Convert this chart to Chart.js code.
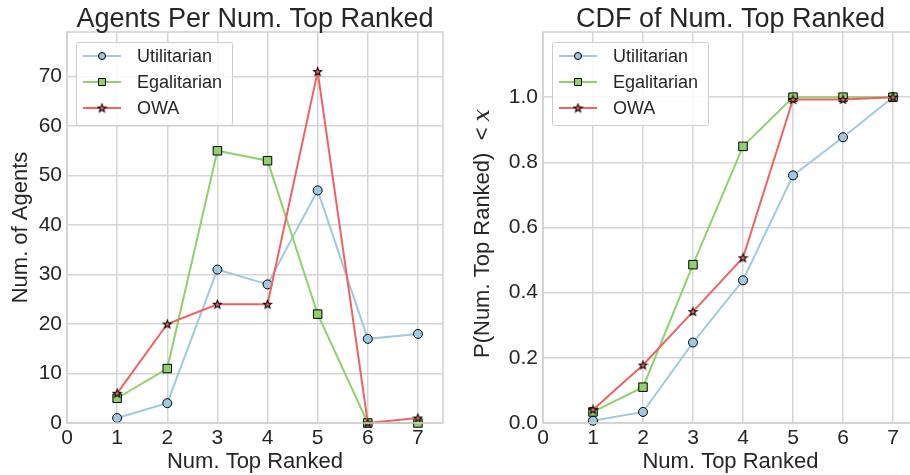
<!DOCTYPE html>
<html>
<head>
<meta charset="utf-8">
<script src="https://cdn.jsdelivr.net/npm/chart.js@4/dist/chart.umd.min.js"></script>
<style>
  html, body { margin: 0; padding: 0; background: #fff; width: 910px; height: 475px; overflow: hidden; position: relative; }
  canvas { position: absolute; top: 0; }
  #c1 { left: 0; }
  #c2 { left: 460px; }
</style>
</head>
<body>
<canvas id="c1" width="460" height="475"></canvas>
<canvas id="c2" width="470" height="475"></canvas>
<script>
// ---- data ----
const numTopRanked = [1, 2, 3, 4, 5, 6, 7];
const xTicks = [0, 1, 2, 3, 4, 5, 6, 7];
const seriesNames = ['Utilitarian', 'Egalitarian', 'OWA'];

const utilCount = [1, 4, 31, 28, 47, 17, 18];
const egalCount = [5, 11, 55, 53, 22, 0, 0];
const owaCount  = [6, 20, 24, 24, 71, 0, 1];

const utilCdf = [0.007, 0.034, 0.247, 0.438, 0.760, 0.877, 1.0];
const egalCdf = [0.034, 0.110, 0.486, 0.849, 1.0, 1.0, 1.0];
const owaCdf  = [0.041, 0.178, 0.342, 0.507, 0.993, 0.993, 1.0];

const countTicks = [0, 10, 20, 30, 40, 50, 60, 70];
const cdfTicks = [0.0, 0.2, 0.4, 0.6, 0.8, 1.0];

// ---- styles ----
const colors = ['#9ecae1', '#8fd16c', '#f06262'];
const TXT = '#262626';
const GRID = '#d5d5d5';
const FONT = "'Liberation Sans', Arial, sans-serif";

function makeStar(fill) {
  const c = document.createElement('canvas');
  c.width = 11; c.height = 11;
  const g = c.getContext('2d');
  const cx = 5.5, cy = 5.8, R = 4.2, r = 1.8;
  g.beginPath();
  for (let i = 0; i < 10; i++) {
    const a = -Math.PI / 2 + i * Math.PI / 5;
    const rr = i % 2 === 0 ? R : r;
    const px = cx + rr * Math.cos(a), py = cy + rr * Math.sin(a);
    if (i === 0) g.moveTo(px, py); else g.lineTo(px, py);
  }
  g.closePath();
  g.fillStyle = fill; g.fill();
  g.lineWidth = 1.1; g.strokeStyle = '#000'; g.stroke();
  return c;
}
const starImg = makeStar(colors[2]);
const markerStyles = ['circle', 'rect', starImg];
const markerRadius = [4.5, 6, 5];

function toPts(arr) { return arr.map((v, i) => ({ x: numTopRanked[i], y: v })); }

function makeDatasets(arrs) {
  return arrs.map((arr, i) => ({
    label: seriesNames[i],
    data: toPts(arr),
    borderColor: colors[i],
    backgroundColor: colors[i],
    borderWidth: 2,
    pointStyle: markerStyles[i],
    pointRadius: markerRadius[i],
    pointHoverRadius: markerRadius[i],
    pointBackgroundColor: colors[i],
    pointBorderColor: '#000',
    pointBorderWidth: 1,
    tension: 0,
    fill: false,
    clip: false,
    order: 2 - i
  }));
}

function drawLegendMarker(ctx, i, x, y) {
  ctx.save();
  ctx.fillStyle = colors[i];
  ctx.strokeStyle = '#000';
  ctx.lineWidth = 1;
  if (i === 0) {
    ctx.beginPath(); ctx.arc(x, y, 3.5, 0, Math.PI * 2); ctx.fill(); ctx.stroke();
  } else if (i === 1) {
    ctx.beginPath(); ctx.rect(x - 3.5, y - 3.5, 7, 7); ctx.fill(); ctx.stroke();
  } else {
    ctx.drawImage(starImg, x - 5.5, y - 5.5);
  }
  ctx.restore();
}

const decorPlugin = {
  id: 'decor',
  afterDraw(chart, args, opts) {
    const ctx = chart.ctx;
    const a = chart.chartArea;
    ctx.save();
    // frame
    ctx.strokeStyle = '#cfcfcf';
    ctx.lineWidth = 1.5;
    ctx.strokeRect(a.left, a.top, a.right - a.left, a.bottom - a.top);
    // title
    ctx.fillStyle = TXT;
    ctx.textAlign = 'center';
    ctx.textBaseline = 'alphabetic';
    ctx.font = '27px ' + FONT;
    ctx.fillText(opts.title, (a.left + a.right) / 2, 27);
    // x label
    ctx.font = '22px ' + FONT;
    ctx.fillText(opts.xLabel, (a.left + a.right) / 2, 468);
    // y label
    ctx.save();
    ctx.translate(opts.yLabelX, (a.top + a.bottom) / 2 + (opts.yLabelShift || 0));
    ctx.rotate(-Math.PI / 2);
    ctx.textBaseline = 'middle';
    const parts = opts.yLabelParts;
    let total = 0;
    parts.forEach(p => { ctx.font = p.font; total += ctx.measureText(p.t).width; });
    let px = -total / 2;
    ctx.textAlign = 'left';
    parts.forEach(p => { ctx.font = p.font; ctx.fillText(p.t, px, 0); px += ctx.measureText(p.t).width; });
    ctx.restore();
    // legend
    const bx = a.left + 9, by = 42, bw = 156, bh = 83;
    ctx.fillStyle = 'rgba(255,255,255,0.85)';
    ctx.strokeStyle = '#cccccc';
    ctx.lineWidth = 1;
    ctx.beginPath();
    if (ctx.roundRect) ctx.roundRect(bx + 0.5, by + 0.5, bw, bh, 2); else ctx.rect(bx + 0.5, by + 0.5, bw, bh);
    ctx.fill(); ctx.stroke();
    ctx.font = '18px ' + FONT;
    ctx.textAlign = 'left';
    ctx.textBaseline = 'middle';
    seriesNames.forEach((name, i) => {
      const y = by + 14 + i * 26;
      ctx.strokeStyle = colors[i];
      ctx.lineWidth = 2;
      ctx.beginPath(); ctx.moveTo(bx + 7, y); ctx.lineTo(bx + 45, y); ctx.stroke();
      drawLegendMarker(ctx, i, bx + 26, y);
      ctx.fillStyle = TXT;
      ctx.fillText(name, bx + 61, y + 1);
    });
    ctx.restore();
  }
};

function makeOptions(cfg) {
  return {
    responsive: false,
    animation: false,
    events: [],
    layout: { padding: { left: 0, right: cfg.padRight, top: 32, bottom: 0 } },
    plugins: {
      legend: { display: false },
      tooltip: { enabled: false },
      title: { display: false },
      decor: cfg.decor
    },
    scales: {
      x: {
        type: 'linear',
        min: 0, max: 7.5,
        afterBuildTicks: s => { s.ticks = xTicks.map(v => ({ value: v })); },
        afterFit: s => { s.height = 52; },
        grid: { color: GRID, lineWidth: 1.5, drawTicks: false },
        border: { display: false },
        ticks: { color: TXT, font: { size: 21, family: FONT }, padding: 3, maxRotation: 0, autoSkip: false,
                 callback: v => String(v) }
      },
      y: {
        type: 'linear',
        min: 0, max: cfg.yMax,
        afterBuildTicks: s => { s.ticks = cfg.yTicks.map(v => ({ value: v })); },
        afterFit: s => { s.width = cfg.yWidth; },
        grid: { color: GRID, lineWidth: 1.5, drawTicks: false },
        border: { display: false },
        ticks: { color: TXT, font: { size: 21, family: FONT }, padding: 5, autoSkip: false,
                 callback: cfg.yFmt }
      }
    }
  };
}

new Chart(document.getElementById('c1'), {
  type: 'line',
  data: { datasets: makeDatasets([utilCount, egalCount, owaCount]) },
  options: makeOptions({
    padRight: 17, yMax: 79, yTicks: countTicks, yWidth: 67,
    yFmt: v => String(v),
    decor: {
      title: 'Agents Per Num. Top Ranked',
      xLabel: 'Num. Top Ranked',
      yLabelX: 21,
      yLabelParts: [{ t: 'Num. of Agents', font: '22px ' + FONT }]
    }
  }),
  plugins: [decorPlugin]
});

new Chart(document.getElementById('c2'), {
  type: 'line',
  data: { datasets: makeDatasets([utilCdf, egalCdf, owaCdf]) },
  options: makeOptions({
    padRight: 12, yMax: 1.2, yTicks: cdfTicks, yWidth: 83,
    yFmt: v => Number(v).toFixed(1),
    decor: {
      title: 'CDF of Num. Top Ranked',
      xLabel: 'Num. Top Ranked',
      yLabelX: 23,
      yLabelShift: 6,
      yLabelParts: [
        { t: 'P(Num. Top Ranked)  ', font: '22px ' + FONT },
        { t: '<', font: '22px ' + FONT },
        { t: ' ', font: '22px ' + FONT },
        { t: 'x', font: "italic 22px 'DejaVu Serif', 'Liberation Serif', serif" }
      ]
    }
  }),
  plugins: [decorPlugin]
});
</script>
</body>
</html>
